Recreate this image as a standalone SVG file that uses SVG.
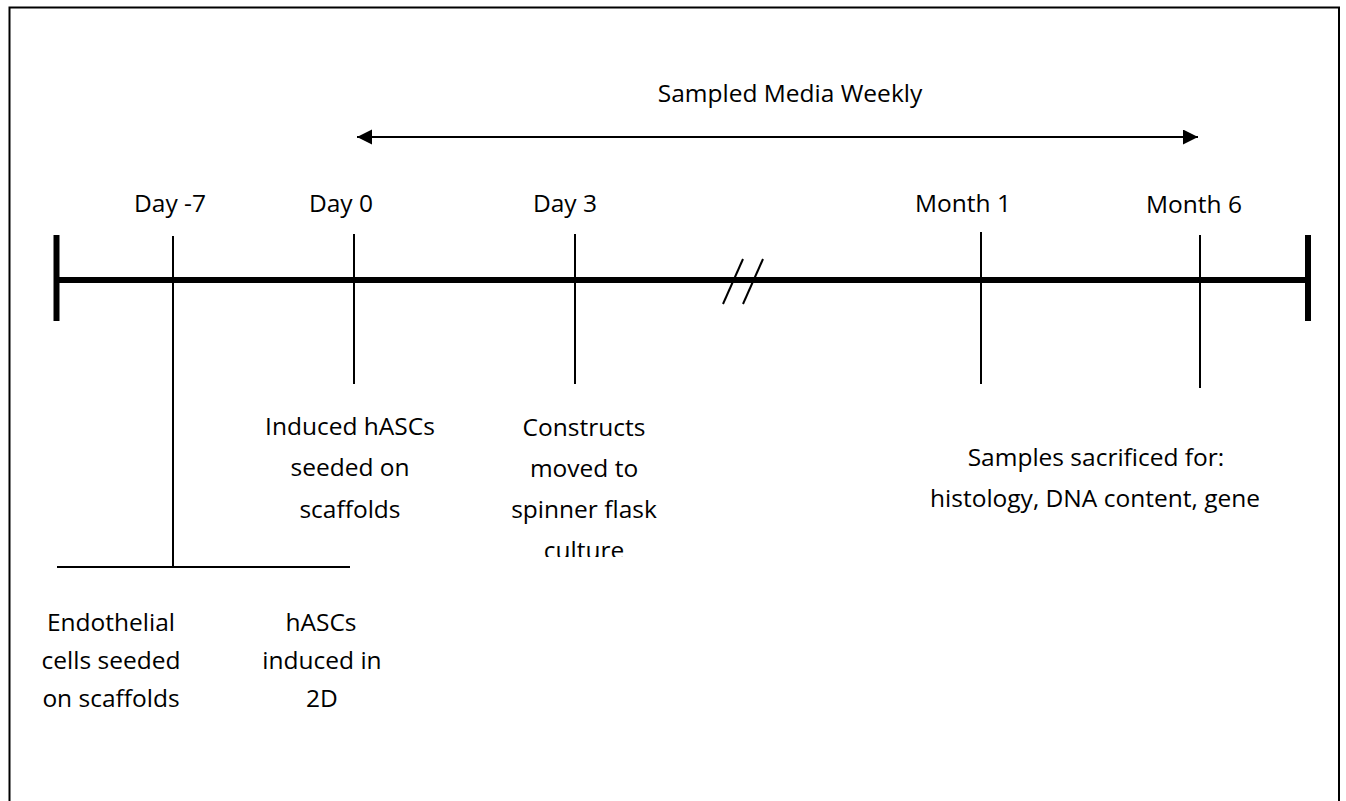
<svg xmlns="http://www.w3.org/2000/svg" width="1346" height="801" viewBox="0 0 1346 801">
<style>
text{font-family:"Open Sans","Liberation Sans",sans-serif;font-size:24.5px;fill:#000;text-anchor:middle}
.tick{stroke:#000;stroke-width:2;fill:none}
.axis{stroke:#000;stroke-width:6;fill:none}
.cap{stroke:#000;stroke-width:6;fill:none}
.thin{stroke:#000;stroke-width:2;fill:none}
</style>
<defs>
<marker id="ah" markerWidth="16" markerHeight="16" refX="15" refY="7.5" orient="auto-start-reverse" markerUnits="userSpaceOnUse" viewBox="0 0 16 16">
<path d="M0,0 L15,7.5 L0,15 z" fill="#000"/>
</marker>
<clipPath id="clipC"><rect x="480" y="380" width="220" height="177"/></clipPath>
</defs>
<rect x="0" y="0" width="1346" height="801" fill="#fff"/>
<path d="M9.5,815 V7.5 H1339 V815" fill="none" stroke="#000" stroke-width="2"/>
<g id="connectors">
<line class="axis" x1="57" y1="280" x2="1306" y2="280"/>
<line class="cap" x1="56.5" y1="235" x2="56.5" y2="321"/>
<line class="cap" x1="1308" y1="235" x2="1308" y2="321"/>
<line class="thin" x1="723" y1="304" x2="743" y2="259"/>
<line class="thin" x1="743" y1="304" x2="763" y2="259"/>
<line class="thin" x1="357" y1="137" x2="1198" y2="137" marker-start="url(#ah)" marker-end="url(#ah)"/>
<line class="thin" x1="57" y1="567" x2="350" y2="567"/>
</g>
<g id="sampled-media">
<text x="790" y="102">Sampled Media Weekly</text>
</g>
<g id="day-7">
<line class="tick" x1="173" y1="236" x2="173" y2="567"/>
<text x="170" y="212">Day -7</text>
</g>
<g id="day0">
<line class="tick" x1="354" y1="234" x2="354" y2="384"/>
<text x="341" y="212">Day 0</text>
<text x="350" y="435">Induced hASCs</text>
<text x="350" y="476">seeded on</text>
<text x="350" y="518">scaffolds</text>
</g>
<g id="day3">
<line class="tick" x1="575" y1="234" x2="575" y2="384"/>
<text x="565" y="212">Day 3</text>
<g clip-path="url(#clipC)">
<text x="584" y="436">Constructs</text>
<text x="584" y="477">moved to</text>
<text x="584" y="518">spinner flask</text>
<text x="584" y="559">culture</text>
</g>
</g>
<g id="month1">
<line class="tick" x1="981" y1="232" x2="981" y2="384"/>
<text x="963" y="212">Month 1</text>
</g>
<g id="month6">
<line class="tick" x1="1200" y1="235" x2="1200" y2="388"/>
<text x="1194" y="213">Month 6</text>
</g>
<g id="samples">
<text x="1096" y="466">Samples sacrificed for:</text>
<text x="1095" y="507">histology, DNA content, gene</text>
</g>
<g id="endothelial">
<text x="111" y="631">Endothelial</text>
<text x="111" y="669">cells seeded</text>
<text x="111" y="707">on scaffolds</text>
</g>
<g id="hascs2d">
<text x="321" y="631">hASCs</text>
<text x="322" y="669">induced in</text>
<text x="322" y="707">2D</text>
</g>
</svg>
